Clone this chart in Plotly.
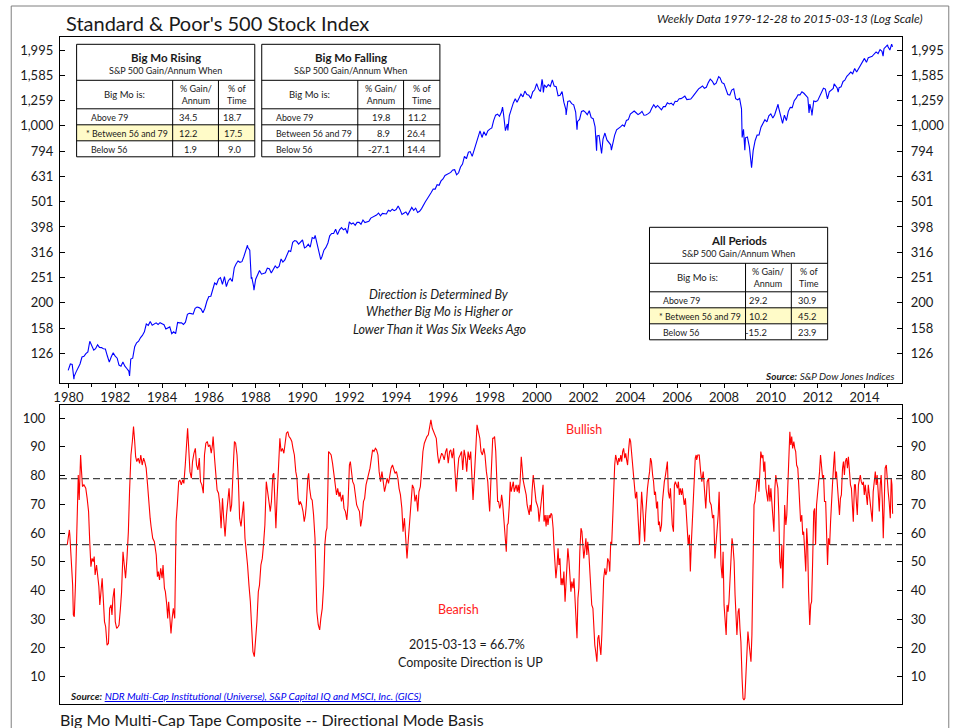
import pandas as pd
import plotly.graph_objects as go

# ---------------- DATA ----------------
SPX_START = ("1979-12-28", 107.8)
SPX_END = ("2015-03-13", 2053.4)
# month-end closes, Jan 1980 .. Feb 2015
SPX_MONTHLY = [
    114.2, 113.7, 102.1, 106.3, 111.2, 114.2, 121.7, 122.4, 125.5, 127.5, 140.5, 135.8,
    129.6, 131.3, 136.0, 132.8, 132.6, 131.2, 130.9, 122.8, 116.2, 121.9, 126.4, 122.6,
    120.4, 113.1, 112.0, 116.4, 111.9, 109.6, 107.1, 119.5, 120.4, 133.7, 138.5, 140.6,
    145.3, 148.1, 153.0, 164.4, 162.4, 168.1, 162.6, 164.4, 166.1, 163.6, 166.4, 164.9,
    163.4, 157.1, 159.2, 160.1, 150.6, 153.2, 150.7, 166.7, 166.1, 166.1, 163.6, 167.2,
    179.6, 181.2, 180.7, 179.8, 189.6, 191.9, 190.9, 188.6, 182.1, 189.8, 202.2, 211.3,
    211.8, 226.9, 238.9, 235.5, 247.4, 250.8, 236.1, 252.9, 231.3, 244.0, 249.2, 242.2,
    274.1, 284.2, 291.7, 288.4, 290.1, 304.0, 318.7, 329.8, 321.8, 251.8, 230.3, 247.1,
    257.1, 267.8, 258.9, 261.3, 262.2, 273.5, 272.0, 261.5, 271.9, 279.0, 273.7, 277.7,
    297.5, 288.9, 294.9, 309.6, 320.5, 318.0, 346.1, 351.5, 349.2, 340.4, 346.0, 353.4,
    329.1, 331.9, 339.9, 330.8, 361.2, 358.0, 356.2, 322.6, 306.1, 304.0, 322.2, 330.2,
    343.9, 367.1, 375.2, 375.3, 389.8, 371.2, 387.8, 395.4, 387.9, 392.5, 375.2, 417.1,
    408.8, 412.7, 403.7, 415.0, 415.4, 408.1, 424.2, 414.0, 417.8, 418.7, 431.4, 435.7,
    438.8, 443.4, 451.7, 440.2, 450.2, 450.5, 448.1, 463.6, 458.9, 467.8, 461.8, 466.5,
    481.6, 467.1, 445.8, 450.9, 456.5, 444.3, 458.3, 475.5, 462.7, 472.4, 454.0, 459.3,
    470.4, 487.4, 500.7, 514.7, 533.4, 544.8, 562.1, 561.9, 584.4, 581.5, 605.4, 615.9,
    636.0, 640.4, 645.5, 654.2, 669.1, 670.6, 640.0, 652.0, 687.3, 705.3, 757.0, 740.7,
    786.2, 790.8, 757.1, 801.3, 848.3, 885.1, 954.3, 899.5, 947.3, 914.6, 955.4, 970.4,
    980.3, 1049.3, 1101.8, 1111.8, 1090.8, 1133.8, 1120.7, 957.3, 1017.0, 1098.7, 1163.6, 1229.2,
    1279.6, 1238.3, 1286.4, 1335.2, 1301.8, 1372.7, 1328.7, 1320.4, 1282.7, 1362.9, 1388.9, 1469.3,
    1394.5, 1366.4, 1498.6, 1452.4, 1420.6, 1454.6, 1430.8, 1517.7, 1436.5, 1429.4, 1315.0, 1320.3,
    1366.0, 1239.9, 1160.3, 1249.5, 1255.8, 1224.4, 1211.2, 1133.6, 1040.9, 1059.8, 1139.5, 1148.1,
    1130.2, 1106.7, 1147.4, 1076.9, 1067.1, 989.8, 911.6, 916.1, 815.3, 885.8, 936.3, 879.8,
    855.7, 841.2, 848.2, 916.9, 963.6, 974.5, 990.3, 1008.0, 996.0, 1050.7, 1058.2, 1111.9,
    1131.1, 1144.9, 1126.2, 1107.3, 1120.7, 1140.8, 1101.7, 1104.2, 1114.6, 1130.2, 1173.8, 1211.9,
    1181.3, 1203.6, 1180.6, 1156.9, 1191.5, 1191.3, 1234.2, 1220.3, 1228.8, 1207.0, 1249.5, 1248.3,
    1280.1, 1280.7, 1294.9, 1310.6, 1270.1, 1270.2, 1276.7, 1303.8, 1335.9, 1377.9, 1400.6, 1418.3,
    1438.2, 1406.8, 1420.9, 1482.4, 1530.6, 1503.4, 1455.3, 1474.0, 1526.8, 1549.4, 1481.1, 1468.4,
    1378.6, 1330.6, 1322.7, 1385.6, 1400.4, 1280.0, 1267.4, 1282.8, 1166.4, 968.8, 896.2, 903.3,
    825.9, 735.1, 797.9, 872.8, 919.1, 919.3, 987.5, 1020.6, 1057.1, 1036.2, 1095.6, 1115.1,
    1073.9, 1104.5, 1169.4, 1186.7, 1089.4, 1030.7, 1101.6, 1049.3, 1141.2, 1183.3, 1180.6, 1257.6,
    1286.1, 1327.2, 1325.8, 1363.6, 1345.2, 1320.6, 1292.3, 1218.9, 1131.4, 1253.3, 1247.0, 1257.6,
    1312.4, 1365.7, 1408.5, 1397.9, 1310.3, 1362.2, 1379.3, 1406.6, 1440.7, 1412.2, 1416.2, 1426.2,
    1498.1, 1514.7, 1569.2, 1597.6, 1630.7, 1606.3, 1685.7, 1633.0, 1681.6, 1756.5, 1805.8, 1848.4,
    1782.6, 1859.5, 1872.3, 1884.0, 1923.6, 1960.2, 1930.7, 2003.4, 1972.3, 2018.1, 2067.6, 2058.9,
    1995.0, 2104.5,
]
# intra-month weekly extremes visible in the chart
SPX_EXTREMES = [
    ("1980-03-27", 99.5), ("1982-08-12", 102.4), ("1987-08-25", 336.8),
    ("1987-10-23", 248.2), ("1987-12-04", 223.9), ("1990-07-16", 368.9),
    ("1990-10-11", 295.5), ("1998-07-17", 1186.8), ("1998-10-08", 959.4),
    ("2000-03-24", 1527.5), ("2000-04-14", 1356.6), ("2000-09-01", 1520.8),
    ("2001-04-04", 1103.3), ("2001-09-21", 965.8), ("2002-07-23", 797.7),
    ("2002-10-09", 776.8), ("2003-03-11", 800.7), ("2007-10-09", 1565.2),
    ("2008-10-10", 899.2), ("2008-11-21", 800.0), ("2009-03-06", 683.4),
    ("2010-04-23", 1217.3), ("2010-07-02", 1022.6), ("2011-08-19", 1123.5),
    ("2011-10-03", 1099.2), ("2012-06-01", 1278.0), ("2012-09-14", 1465.8),
    ("2012-11-16", 1359.9), ("2014-10-17", 1886.8), ("2014-12-26", 2088.8),
]

# Big Mo Multi-Cap Tape Composite: (decimal year, value)
BIGMO = [
    (1979.95, 55.9), (1980.04, 61.1), (1980.06, 59.4), (1980.13, 50.1), (1980.18, 41.9), (1980.21, 31.5),
    (1980.25, 30.9), (1980.30, 41.9), (1980.38, 64.0), (1980.42, 80.2), (1980.46, 71.5), (1980.52, 87.2),
    (1980.56, 81.4), (1980.60, 76.2), (1980.66, 76.8), (1980.74, 75.6), (1980.80, 72.1), (1980.86, 67.5),
    (1980.91, 57.0), (1980.96, 48.3), (1981.01, 51.2), (1981.06, 50.1), (1981.10, 51.8), (1981.14, 45.4),
    (1981.20, 48.9), (1981.24, 45.4), (1981.30, 41.4), (1981.34, 35.0), (1981.39, 41.4), (1981.44, 44.3),
    (1981.48, 38.5), (1981.54, 29.2), (1981.59, 27.4), (1981.65, 21.0), (1981.71, 21.6), (1981.76, 33.8),
    (1981.82, 35.0), (1981.86, 31.5), (1981.90, 37.3), (1981.96, 40.8), (1982.00, 29.2), (1982.06, 26.8),
    (1982.12, 27.4), (1982.16, 28.0), (1982.22, 33.8), (1982.27, 39.6), (1982.33, 53.5), (1982.39, 47.7),
    (1982.44, 44.3), (1982.50, 51.2), (1982.56, 60.5), (1982.61, 74.4), (1982.67, 87.2), (1982.73, 91.9),
    (1982.78, 97.1), (1982.83, 91.9), (1982.87, 86.6), (1982.92, 84.9), (1982.98, 86.1), (1983.04, 84.3),
    (1983.09, 87.2), (1983.15, 83.7), (1983.21, 86.1), (1983.26, 84.9), (1983.32, 82.6), (1983.38, 76.8),
    (1983.43, 69.8), (1983.49, 65.2), (1983.53, 62.3), (1983.60, 58.2), (1983.67, 57.0), (1983.75, 52.4),
    (1983.80, 44.8), (1983.84, 46.6), (1983.89, 43.7), (1983.94, 47.7), (1984.00, 44.3), (1984.04, 48.9),
    (1984.10, 40.8), (1984.14, 39.6), (1984.20, 35.0), (1984.24, 30.3), (1984.28, 36.1), (1984.34, 30.3),
    (1984.38, 25.1), (1984.43, 30.3), (1984.48, 33.8), (1984.54, 30.3), (1984.60, 64.0), (1984.65, 69.8),
    (1984.71, 77.9), (1984.76, 78.5), (1984.82, 76.8), (1984.88, 78.5), (1984.93, 77.3), (1984.99, 83.7),
    (1985.05, 93.0), (1985.09, 96.5), (1985.13, 90.7), (1985.19, 81.4), (1985.25, 79.1), (1985.30, 84.9),
    (1985.36, 87.8), (1985.42, 89.5), (1985.47, 83.7), (1985.53, 82.0), (1985.59, 86.1), (1985.64, 77.9),
    (1985.70, 76.8), (1985.76, 73.9), (1985.81, 87.2), (1985.87, 91.3), (1985.93, 91.9), (1985.98, 90.1),
    (1986.04, 90.7), (1986.10, 87.8), (1986.15, 90.7), (1986.18, 93.6), (1986.24, 86.1), (1986.29, 79.1),
    (1986.35, 75.0), (1986.41, 73.9), (1986.46, 70.4), (1986.52, 61.7), (1986.58, 72.1), (1986.63, 65.2),
    (1986.69, 58.8), (1986.75, 66.3), (1986.80, 72.1), (1986.86, 75.6), (1986.92, 67.5), (1986.97, 69.8),
    (1987.03, 81.4), (1987.09, 91.9), (1987.14, 91.3), (1987.20, 87.2), (1987.26, 77.9), (1987.31, 65.2),
    (1987.37, 62.3), (1987.43, 66.3), (1987.48, 71.0), (1987.54, 58.2), (1987.60, 53.5), (1987.65, 48.9),
    (1987.71, 41.9), (1987.77, 36.1), (1987.82, 28.0), (1987.88, 18.7), (1987.94, 17.0), (1987.99, 22.2),
    (1988.05, 29.2), (1988.11, 39.6), (1988.16, 41.9), (1988.22, 48.9), (1988.28, 51.2), (1988.33, 55.9),
    (1988.39, 62.8), (1988.45, 77.9), (1988.50, 74.4), (1988.56, 72.1), (1988.62, 67.5), (1988.67, 71.0),
    (1988.73, 80.2), (1988.77, 80.8),
    (1988.81, 74.4), (1988.86, 61.7), (1988.91, 72.1), (1988.97, 84.9), (1989.03, 93.0), (1989.08, 88.4),
    (1989.14, 89.5), (1989.20, 87.8), (1989.25, 91.9), (1989.31, 94.8), (1989.37, 95.3), (1989.42, 93.6),
    (1989.48, 93.0), (1989.54, 91.9), (1989.59, 89.5), (1989.65, 87.2), (1989.71, 81.4), (1989.76, 79.1),
    (1989.81, 72.1), (1989.85, 69.8), (1989.90, 71.0), (1989.96, 69.8), (1990.02, 67.5), (1990.07, 64.0),
    (1990.12, 66.3), (1990.16, 69.8), (1990.22, 79.1), (1990.26, 80.8), (1990.30, 75.6), (1990.36, 72.1),
    (1990.41, 71.5), (1990.47, 66.3), (1990.53, 58.2), (1990.57, 46.6), (1990.61, 32.6), (1990.67, 28.0),
    (1990.73, 26.3), (1990.78, 30.3), (1990.84, 33.8), (1990.90, 41.9), (1990.95, 55.9), (1991.00, 60.5),
    (1991.04, 61.7), (1991.08, 75.6), (1991.11, 88.4), (1991.17, 87.8), (1991.22, 87.2), (1991.28, 84.3),
    (1991.34, 80.2), (1991.39, 76.8), (1991.45, 73.3), (1991.50, 75.6), (1991.56, 72.7), (1991.60, 74.4),
    (1991.66, 71.0), (1991.72, 73.3), (1991.77, 68.6), (1991.83, 67.5), (1991.89, 64.6), (1991.94, 69.8),
    (1992.00, 83.7), (1992.04, 84.9), (1992.09, 80.2), (1992.14, 77.9), (1992.20, 76.8), (1992.26, 72.1),
    (1992.31, 69.8), (1992.37, 68.6), (1992.43, 67.5), (1992.48, 62.3), (1992.54, 65.2), (1992.60, 71.0),
    (1992.65, 72.1), (1992.71, 76.8), (1992.77, 79.1), (1992.82, 80.2), (1992.88, 82.6), (1992.94, 86.1),
    (1992.99, 89.0), (1993.05, 88.4), (1993.11, 89.5), (1993.16, 89.0), (1993.22, 87.2), (1993.27, 81.4),
    (1993.33, 77.9), (1993.39, 81.4), (1993.44, 78.5), (1993.50, 74.4), (1993.56, 76.8), (1993.61, 79.1),
    (1993.67, 77.3), (1993.73, 80.2), (1993.78, 82.6), (1993.84, 83.7), (1993.90, 82.0), (1993.95, 80.8),
    (1994.01, 81.4), (1994.07, 79.1), (1994.12, 75.6), (1994.18, 73.3), (1994.24, 68.6), (1994.29, 60.5),
    (1994.35, 65.2), (1994.41, 57.0), (1994.46, 51.2), (1994.52, 58.2), (1994.58, 66.3), (1994.63, 71.0),
    (1994.69, 76.8), (1994.75, 75.6), (1994.80, 71.0), (1994.86, 73.3), (1994.92, 67.5), (1994.97, 74.4),
    (1995.03, 76.2), (1995.09, 82.6), (1995.14, 88.4), (1995.20, 91.3), (1995.26, 93.0), (1995.31, 93.6),
    (1995.37, 94.2), (1995.43, 96.5), (1995.48, 99.4), (1995.54, 96.5), (1995.60, 95.3), (1995.65, 94.8),
    (1995.71, 93.0), (1995.77, 87.2), (1995.82, 84.3), (1995.88, 86.1), (1995.94, 87.8), (1995.99, 87.2),
    (1996.05, 85.5), (1996.11, 88.4), (1996.16, 89.5), (1996.22, 84.3), (1996.28, 88.4), (1996.33, 89.0),
    (1996.39, 86.1), (1996.45, 89.5), (1996.50, 82.6), (1996.56, 74.4), (1996.62, 81.4), (1996.67, 86.1),
    (1996.73, 87.2), (1996.79, 88.4), (1996.84, 82.0), (1996.90, 89.0), (1996.96, 86.1), (1997.01, 81.4),
    (1997.07, 88.4), (1997.13, 85.5), (1997.18, 88.4), (1997.24, 75.6), (1997.28, 71.5), (1997.34, 80.2),
    (1997.40, 89.5), (1997.45, 97.7), (1997.51, 95.3), (1997.57, 93.0), (1997.62, 88.4), (1997.68, 87.2),
    (1997.74, 89.5), (1997.79, 87.2), (1997.85, 81.4), (1997.91, 77.9),
    (1997.95, 72.1), (1997.99, 67.5), (1998.03, 75.6), (1998.08, 87.2), (1998.12, 93.0), (1998.16, 93.0),
    (1998.20, 93.6), (1998.25, 88.4), (1998.29, 81.4), (1998.33, 71.0), (1998.37, 71.0), (1998.42, 68.6),
    (1998.46, 69.8), (1998.50, 73.3), (1998.54, 71.0), (1998.59, 65.2), (1998.63, 59.4), (1998.67, 55.9),
    (1998.70, 53.5), (1998.74, 62.8), (1998.78, 63.4), (1998.83, 69.8), (1998.87, 77.9), (1998.91, 74.4),
    (1998.95, 76.8), (1999.00, 77.9), (1999.04, 74.4), (1999.08, 75.6), (1999.12, 76.8), (1999.17, 74.4),
    (1999.21, 76.8), (1999.25, 73.9), (1999.29, 77.9), (1999.34, 86.6), (1999.38, 81.4), (1999.42, 78.5),
    (1999.46, 76.8), (1999.51, 74.4), (1999.55, 73.3), (1999.59, 69.8), (1999.63, 68.6), (1999.68, 66.3),
    (1999.72, 69.8), (1999.76, 67.5), (1999.80, 74.4), (1999.85, 80.2), (1999.89, 77.3), (1999.93, 73.3),
    (1999.97, 71.0), (2000.02, 69.8), (2000.06, 68.6), (2000.10, 64.0), (2000.14, 67.5), (2000.19, 69.8),
    (2000.23, 75.6), (2000.27, 76.8), (2000.31, 64.0), (2000.36, 66.3), (2000.40, 62.3), (2000.44, 66.3),
    (2000.48, 62.8), (2000.53, 66.3), (2000.57, 65.2), (2000.61, 66.9), (2000.65, 66.3), (2000.70, 61.7),
    (2000.74, 54.7), (2000.78, 46.6), (2000.82, 44.3), (2000.87, 48.9), (2000.91, 54.7), (2000.95, 48.9),
    (2000.99, 51.2), (2001.04, 41.9), (2001.08, 44.3), (2001.12, 41.9), (2001.16, 46.6), (2001.21, 36.1),
    (2001.25, 44.3), (2001.29, 50.1), (2001.33, 54.7), (2001.38, 50.1), (2001.42, 44.3), (2001.46, 39.6),
    (2001.50, 43.1), (2001.55, 40.8), (2001.59, 44.3), (2001.63, 38.5), (2001.67, 35.0), (2001.72, 23.4),
    (2001.76, 37.3), (2001.80, 40.8), (2001.84, 53.5), (2001.89, 61.7), (2001.93, 60.5), (2001.97, 54.7),
    (2002.01, 51.2), (2002.06, 54.7), (2002.10, 58.2), (2002.14, 52.4), (2002.18, 57.0), (2002.23, 52.4),
    (2002.27, 45.4), (2002.31, 39.6), (2002.35, 35.0), (2002.40, 33.8), (2002.44, 26.8), (2002.48, 21.0),
    (2002.52, 18.7), (2002.57, 15.2), (2002.61, 23.4), (2002.65, 24.5), (2002.69, 21.0), (2002.74, 17.6),
    (2002.78, 24.5), (2002.82, 35.0), (2002.86, 44.3), (2002.91, 47.7), (2002.95, 45.4), (2002.99, 46.6),
    (2003.03, 51.2), (2003.08, 50.1), (2003.12, 46.6), (2003.16, 57.0), (2003.20, 55.9), (2003.25, 66.3),
    (2003.29, 76.8), (2003.33, 83.7), (2003.37, 87.2), (2003.42, 84.9), (2003.46, 83.7), (2003.50, 86.1),
    (2003.54, 84.9), (2003.59, 87.2), (2003.63, 84.9), (2003.67, 88.4), (2003.71, 89.5), (2003.76, 86.1),
    (2003.80, 87.8), (2003.84, 85.5), (2003.88, 83.7), (2003.93, 89.5), (2003.97, 93.0), (2004.01, 91.9),
    (2004.05, 88.4), (2004.10, 82.6), (2004.14, 79.1), (2004.18, 75.6), (2004.22, 72.1), (2004.27, 74.4),
    (2004.31, 67.5), (2004.35, 64.0), (2004.39, 55.9), (2004.44, 66.3), (2004.48, 74.4), (2004.52, 69.8),
    (2004.56, 64.0), (2004.61, 57.0), (2004.65, 66.3), (2004.69, 72.1), (2004.73, 75.6), (2004.78, 79.1),
    (2004.82, 81.4), (2004.86, 86.1), (2004.90, 84.9), (2004.95, 80.2), (2004.99, 77.9), (2005.03, 73.3),
    (2005.07, 74.4), (2005.12, 68.6), (2005.16, 71.0), (2005.20, 62.8), (2005.24, 64.0), (2005.28, 60.5),
    (2005.33, 62.8), (2005.37, 71.0), (2005.41, 75.6), (2005.45, 77.9), (2005.50, 80.2), (2005.54, 83.7),
    (2005.58, 84.9), (2005.62, 74.4), (2005.67, 72.1), (2005.71, 75.6), (2005.75, 68.6), (2005.79, 62.8),
    (2005.84, 60.5), (2005.88, 76.8), (2005.92, 77.9), (2005.96, 76.8), (2006.01, 75.6), (2006.05, 77.9),
    (2006.09, 73.3), (2006.13, 75.6), (2006.18, 73.3), (2006.22, 75.6), (2006.26, 72.1), (2006.30, 69.8),
    (2006.35, 72.1), (2006.39, 67.5), (2006.43, 60.5), (2006.47, 55.9), (2006.52, 59.4), (2006.56, 46.6),
    (2006.60, 55.9), (2006.64, 62.8), (2006.69, 73.3), (2006.73, 81.4), (2006.77, 86.1), (2006.81, 87.2),
    (2006.83, 85.5), (2006.88, 87.2), (2006.94, 87.2), (2007.00, 81.4), (2007.05, 77.9), (2007.11, 81.4),
    (2007.17, 74.4), (2007.22, 68.6), (2007.28, 77.9), (2007.34, 79.1), (2007.39, 71.0), (2007.45, 69.8),
    (2007.51, 65.2), (2007.56, 66.3), (2007.61, 51.2), (2007.65, 55.9), (2007.70, 59.4), (2007.75, 66.3),
    (2007.79, 74.4), (2007.83, 57.0), (2007.87, 48.9), (2007.92, 44.3), (2007.96, 53.5), (2008.00, 35.0),
    (2008.04, 28.0), (2008.09, 24.5), (2008.13, 35.0), (2008.17, 32.6), (2008.21, 36.1), (2008.26, 43.1),
    (2008.30, 51.2), (2008.34, 58.2), (2008.38, 55.9), (2008.43, 50.1), (2008.47, 38.5), (2008.51, 31.5),
    (2008.55, 24.5), (2008.60, 32.6), (2008.64, 33.8), (2008.68, 26.8), (2008.72, 22.2), (2008.77, 9.4),
    (2008.81, 2.5), (2008.85, 1.9), (2008.89, 2.5), (2008.94, 11.7), (2008.98, 22.2), (2009.02, 25.7),
    (2009.06, 22.2), (2009.11, 18.7), (2009.15, 15.2), (2009.19, 24.5), (2009.23, 46.6), (2009.28, 69.8),
    (2009.32, 71.0), (2009.36, 75.6), (2009.40, 77.9), (2009.45, 79.1), (2009.49, 74.4), (2009.53, 81.4),
    (2009.57, 88.4), (2009.62, 86.1), (2009.66, 87.2), (2009.70, 81.4), (2009.74, 84.9), (2009.79, 75.6),
    (2009.83, 73.3), (2009.87, 71.0), (2009.91, 76.8), (2009.96, 71.0), (2010.00, 75.6), (2010.04, 71.0),
    (2010.08, 67.5), (2010.13, 60.5), (2010.17, 75.6), (2010.21, 80.2), (2010.25, 77.9), (2010.30, 75.6),
    (2010.34, 66.3), (2010.38, 50.1), (2010.42, 47.7), (2010.47, 55.9), (2010.51, 40.8), (2010.55, 53.5),
    (2010.59, 69.8), (2010.64, 62.8), (2010.68, 66.3), (2010.72, 75.6), (2010.76, 88.4), (2010.81, 95.3),
    (2010.85, 90.7), (2010.89, 93.6), (2010.93, 89.5), (2010.98, 91.9), (2011.02, 89.5), (2011.06, 88.4),
    (2011.10, 83.7), (2011.15, 82.6), (2011.19, 76.8), (2011.23, 67.5), (2011.27, 64.0), (2011.32, 66.3),
    (2011.36, 59.4), (2011.40, 60.5), (2011.44, 52.4), (2011.49, 46.6), (2011.53, 61.7), (2011.57, 55.9),
    (2011.61, 39.6), (2011.66, 28.0), (2011.70, 35.0), (2011.74, 36.1), (2011.78, 48.9), (2011.83, 67.5),
    (2011.87, 68.6), (2011.91, 55.9), (2011.95, 69.8), (2012.00, 74.4), (2012.04, 76.8), (2012.08, 81.4),
    (2012.12, 87.2), (2012.17, 82.6), (2012.21, 79.1), (2012.25, 80.2), (2012.29, 71.0), (2012.34, 71.0),
    (2012.38, 59.4), (2012.42, 48.9), (2012.46, 58.2), (2012.51, 55.9), (2012.55, 64.0), (2012.59, 72.1),
    (2012.63, 76.8), (2012.68, 83.7), (2012.72, 88.4), (2012.76, 79.1), (2012.80, 81.4), (2012.85, 75.6),
    (2012.89, 69.8), (2012.93, 66.3), (2012.97, 72.1), (2013.01, 73.3), (2013.06, 82.6), (2013.10, 84.9),
    (2013.14, 80.2), (2013.18, 84.9), (2013.23, 86.1), (2013.27, 82.6), (2013.31, 86.6), (2013.35, 81.4),
    (2013.40, 76.8), (2013.44, 75.6), (2013.48, 69.8), (2013.52, 64.0), (2013.57, 76.8), (2013.61, 76.8),
    (2013.65, 71.0), (2013.69, 66.3), (2013.74, 76.8), (2013.78, 79.1), (2013.82, 80.2), (2013.86, 77.9),
    (2013.91, 76.8), (2013.95, 77.9), (2013.99, 73.3), (2014.03, 76.8), (2014.08, 72.1), (2014.12, 69.8),
    (2014.16, 76.8), (2014.20, 73.3), (2014.25, 69.8), (2014.29, 66.3), (2014.33, 64.0), (2014.37, 74.4),
    (2014.42, 80.2), (2014.46, 81.4), (2014.50, 76.8), (2014.54, 80.2), (2014.59, 73.3), (2014.63, 67.5),
    (2014.67, 76.8), (2014.71, 80.2), (2014.76, 71.0), (2014.80, 58.2), (2014.84, 69.8), (2014.88, 82.6),
    (2014.93, 83.7), (2014.97, 77.9), (2015.01, 74.4), (2015.05, 71.0), (2015.10, 65.2), (2015.14, 79.1),
    (2015.17, 76.8), (2015.20, 66.7),
]

UPPER_THRESHOLD = 79
LOWER_THRESHOLD = 56

X_TICK_YEARS = list(range(1980, 2015, 2))
X_TICK_LABELS = [str(y) for y in X_TICK_YEARS]
SPX_TICK_VALUES = [126, 158, 200, 251, 316, 398, 501, 631, 794, 1000, 1259, 1585, 1995]
SPX_TICK_LABELS = ["126", "158", "200", "251", "316", "398", "501", "631", "794",
                   "1,000", "1,259", "1,585", "1,995"]
BIGMO_TICKS = [10, 20, 30, 40, 50, 60, 70, 80, 90, 100]

TABLE_ROWS = ["Above 79", "Between 56 and 79", "Below 56"]
RISING_GAIN = ["34.5", "12.2", "1.9"]
RISING_TIME = ["18.7", "17.5", "9.0"]
FALLING_GAIN = ["19.8", "8.9", "-27.1"]
FALLING_TIME = ["11.2", "26.4", "14.4"]
ALL_GAIN = ["29.2", "10.2", "-15.2"]
ALL_TIME = ["30.9", "45.2", "23.9"]

# ---------------- HELPERS ----------------
W, H = 956, 728
ML, MR, MT, MB = 60, 50, 37, 24
PW, PH = W - ML - MR, H - MT - MB


def px(x):
    return (x - ML) / PW


def py(y):
    return (H - MB - y) / PH


def to_dec(d):
    d = pd.Timestamp(d)
    start = pd.Timestamp(d.year, 1, 1)
    n = 366 if d.is_leap_year else 365
    return d.year + (d - start).days / n


spx_pts = [(to_dec(SPX_START[0]), SPX_START[1])]
for i, v in enumerate(SPX_MONTHLY):
    ts = pd.Timestamp(1980 + i // 12, i % 12 + 1, 1) + pd.offsets.MonthEnd(0)
    spx_pts.append((to_dec(ts), v))
for d, v in SPX_EXTREMES:
    spx_pts.append((to_dec(d), v))
spx_pts.append((to_dec(SPX_END[0]), SPX_END[1]))
spx_pts.sort()
spx_x = [p[0] for p in spx_pts]
spx_y = [p[1] for p in spx_pts]

bm_x = [p[0] for p in BIGMO]
bm_y = [p[1] for p in BIGMO]

FONT = "Lato, 'Open Sans', sans-serif"
TXT = "#1a1a1a"

fig = go.Figure()
fig.add_trace(go.Scatter(x=spx_x, y=spx_y, mode="lines", xaxis="x", yaxis="y",
                         line=dict(color="#0000ff", width=1.1), hoverinfo="skip"))
fig.add_trace(go.Scatter(x=spx_x, y=spx_y, mode="lines", xaxis="x", yaxis="y3",
                         line=dict(color="#0000ff", width=1.1), opacity=0, hoverinfo="skip"))
fig.add_trace(go.Scatter(x=bm_x, y=bm_y, mode="lines", xaxis="x2", yaxis="y2",
                         line=dict(color="#ff0000", width=1.1), hoverinfo="skip"))
fig.add_trace(go.Scatter(x=bm_x, y=bm_y, mode="lines", xaxis="x2", yaxis="y4",
                         line=dict(color="#ff0000", width=1.1), opacity=0, hoverinfo="skip"))

XR = [1979.64, 2015.6]
top_dom = [py(383), 1.0]
bot_dom = [0.0, py(405)]
axis_common = dict(showgrid=False, zeroline=False, showline=True, linecolor="black",
                   linewidth=1.3, tickfont=dict(family=FONT, size=13, color=TXT),
                   tickcolor="black", ticks="inside", ticklen=5)
log_rng = [1.9825, 3.3514]

fig.update_layout(
    width=W, height=H, margin=dict(l=ML, r=MR, t=MT, b=MB),
    paper_bgcolor="white", plot_bgcolor="white", showlegend=False,
    font=dict(family=FONT, color=TXT),
    xaxis=dict(domain=[0, 1], anchor="y", range=XR, tickvals=X_TICK_YEARS,
               ticktext=X_TICK_LABELS, mirror=True, ticklabelstandoff=-2,
               minor=dict(dtick=1, tick0=1980, ticks="outside", ticklen=3, tickcolor="black"),
               **{**axis_common, "ticks": "outside", "ticklen": 4}),
    yaxis=dict(domain=top_dom, anchor="x", type="log", range=log_rng,
               tickvals=SPX_TICK_VALUES, ticktext=SPX_TICK_LABELS, mirror=True,
               ticklabelstandoff=3, **axis_common),
    yaxis3=dict(overlaying="y", side="right", anchor="x", type="log", range=log_rng,
                tickvals=SPX_TICK_VALUES, ticktext=SPX_TICK_LABELS,
                ticklabelstandoff=5, **axis_common),
    xaxis2=dict(domain=[0, 1], anchor="y2", range=XR, showticklabels=False,
                mirror=True, **{**axis_common, "ticks": ""}),
    yaxis2=dict(domain=bot_dom, anchor="x2", range=[0.5, 104.6], tickvals=BIGMO_TICKS,
                mirror=True, ticklabelstandoff=11, **axis_common),
    yaxis4=dict(overlaying="y2", side="right", anchor="x2", range=[0.5, 104.6],
                tickvals=BIGMO_TICKS, ticklabelstandoff=5, **axis_common),
)

shapes = []
annotations = []

# outer frame
shapes.append(dict(type="rect", xref="paper", yref="paper", x0=px(11), x1=px(953),
                   y0=py(760), y1=py(6), line=dict(color="#7f7f7f", width=1), layer="below"))

# threshold lines
for lvl in (UPPER_THRESHOLD, LOWER_THRESHOLD):
    shapes.append(dict(type="line", xref="x2 domain", yref="y2", x0=0, x1=1, y0=lvl, y1=lvl,
                       line=dict(color="#444444", width=1.3, dash="7px,4px")))


def ann(x, y, text, size=12, color=TXT, xanchor="center", yanchor="middle", **kw):
    annotations.append(dict(xref="paper", yref="paper", x=px(x), y=py(y), text=text,
                            showarrow=False, xanchor=xanchor, yanchor=yanchor,
                            font=dict(family=FONT, size=size, color=color), **kw))


# table drawing
COLW = [96.5, 46, 36.5]
ROWH = [36, 28.5, 16, 16, 16]


def draw_table(left, top, title, gains, times, highlight, val_pads):
    xs = [left, left + COLW[0], left + COLW[0] + COLW[1], left + sum(COLW)]
    ys = [top]
    for h in ROWH:
        ys.append(ys[-1] + h)
    if highlight is not None:
        r = 2 + highlight
        shapes.append(dict(type="rect", xref="paper", yref="paper", x0=px(xs[0]), x1=px(xs[3]),
                           y0=py(ys[r + 1]), y1=py(ys[r]), fillcolor="#fffbc8",
                           line=dict(width=0), layer="above"))
    shapes.append(dict(type="rect", xref="paper", yref="paper", x0=px(xs[0]), x1=px(xs[3]),
                       y0=py(ys[-1]), y1=py(ys[0]), line=dict(color="black", width=1)))
    for yy in ys[1:-1]:
        shapes.append(dict(type="line", xref="paper", yref="paper", x0=px(xs[0]), x1=px(xs[3]),
                           y0=py(yy), y1=py(yy), line=dict(color="black", width=1)))
    for xx in xs[1:3]:
        shapes.append(dict(type="line", xref="paper", yref="paper", x0=px(xx), x1=px(xx),
                           y0=py(ys[-1]), y1=py(ys[1]), line=dict(color="black", width=1)))
    cx = (xs[0] + xs[3]) / 2
    ann(cx, top + 13, "<b>" + title + "</b>", size=11.5)
    ann(cx, top + 26.5, "S&P 500 Gain/Annum When", size=9)
    hy = (ys[1] + ys[2]) / 2
    ann((xs[0] + xs[1]) / 2, hy, "Big Mo is:", size=9.5)
    ann((xs[1] + xs[2]) / 2, hy, "% Gain/<br>Annum", size=9)
    ann((xs[2] + xs[3]) / 2, hy, "% of<br>Time", size=9)
    for i, lab in enumerate(TABLE_ROWS):
        ry = (ys[2 + i] + ys[3 + i]) / 2 + 0.5
        star = highlight is not None and i == highlight
        text = "* " + lab if star else lab
        ann(xs[0] + (7.5 if star else 12), ry, text, size=8.8, xanchor="left")
        ann(xs[2] - val_pads[0], ry, gains[i], size=9.3, xanchor="right")
        ann(xs[3] - val_pads[1], ry, times[i], size=9.3, xanchor="right")


draw_table(76.7, 44.3, "Big Mo Rising", RISING_GAIN, RISING_TIME, 1, (20, 10.5))
draw_table(262.7, 44.3, "Big Mo Falling", FALLING_GAIN, FALLING_TIME, None, (12, 12))
draw_table(652.3, 227.3, "All Periods", ALL_GAIN, ALL_TIME, 1, (22.5, 10))

# titles and notes
ann(64, 23, "Standard & Poor's 500 Stock Index", size=20, xanchor="left")
ann(929, 18, "<i>Weekly Data 1979-12-28 to 2015-03-13 (Log Scale)</i>", size=12, xanchor="right")
ann(441, 294, "<i>Direction is Determined By</i>", size=12.5)
ann(441, 311.5, "<i>Whether Big Mo is Higher or</i>", size=12.5)
ann(441, 329, "<i>Lower Than it Was Six Weeks Ago</i>", size=12.5)
ann(900.5, 376, "<b><i>Source:</i></b> <i>S&P Dow Jones Indices</i>", size=10, xanchor="right")

ann(586, 429.5, "Bullish", size=12.5, color="#ff2020")
ann(460, 609.5, "Bearish", size=12.5, color="#ff2020")
ann(469, 644, "2015-03-13 = 66.7%", size=12.5)
ann(472, 662, "Composite Direction is UP", size=12.5)
ann(68, 696, "<b><i>Source:</i></b> <span style='color:#0000ee'><i><u>NDR Multi-Cap Institutional "
    "(Universe), S&P Capital IQ and MSCI, Inc. (GICS)</u></i></span>", size=10, xanchor="left")
ann(58, 719, "Big Mo Multi-Cap Tape Composite -- Directional Mode Basis", size=16, xanchor="left")

fig.update_layout(shapes=shapes, annotations=annotations)
fig.write_html("out.html", config={"displayModeBar": False},
               post_script="document.body.style.margin='0px';")
